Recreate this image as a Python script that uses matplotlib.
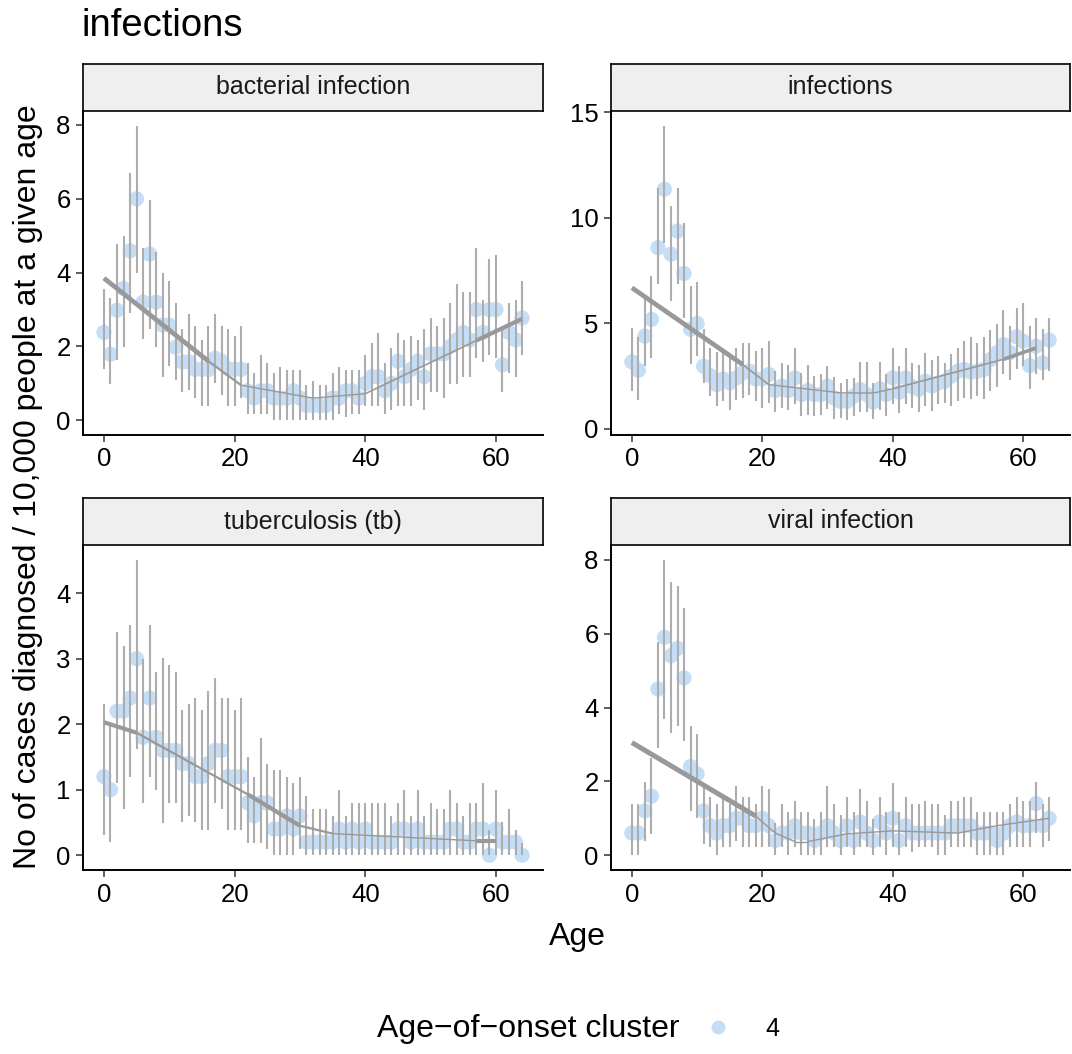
import numpy as np
import matplotlib
matplotlib.use("Agg")
import matplotlib.pyplot as plt
from matplotlib.collections import LineCollection
from matplotlib.lines import Line2D

plt.rcParams['font.family'] = ['Liberation Sans', 'DejaVu Sans']

ages = list(range(65))
panel_titles = ['bacterial infection', 'infections', 'tuberculosis (tb)', 'viral infection']

# rates per 10,000 with lower / upper intervals
bact_val = [2.38, 1.79, 2.98, 3.57, 4.59, 6.0, 3.2, 4.5, 3.2, 2.58,
            2.58, 1.98, 1.58, 1.58, 1.38, 1.38, 1.38, 1.68, 1.6, 1.4,
            1.38, 1.38, 0.8, 0.6, 0.8, 0.8, 0.6, 0.6, 0.6, 0.8,
            0.6, 0.4, 0.4, 0.4, 0.4, 0.6, 0.6, 0.8, 0.8, 0.6,
            1.0, 1.18, 1.18, 0.8, 1.0, 1.6, 1.18, 1.38, 1.6, 1.18,
            1.8, 1.8, 1.8, 2.0, 2.18, 2.38, 2.18, 3.0, 2.38, 3.0,
            3.0, 1.5, 2.38, 2.18, 2.77]
bact_lo = [1.38, 0.97, 1.64, 1.98, 2.91, 4.0, 2.2, 2.47, 1.98, 1.18,
           1.47, 1.09, 0.77, 0.82, 0.59, 0.38, 0.38, 1.0, 0.68, 0.38,
           0.38, 0.59, 0.18, 0.18, 0.18, 0.18, 0.0, 0.0, 0.0, 0.0,
           0.0, 0.0, 0.0, 0.0, 0.0, 0.0, 0.18, 0.09, 0.18, 0.18,
           0.38, 0.38, 0.38, 0.18, 0.27, 0.38, 0.38, 0.38, 0.55, 0.27,
           0.77, 0.77, 0.59, 0.98, 0.98, 1.18, 1.18, 1.68, 1.59, 1.77,
           1.68, 0.77, 1.27, 1.18, 1.77]
bact_hi = [3.56, 3.3, 4.77, 4.98, 6.69, 7.98, 4.68, 5.98, 4.56, 3.98,
           3.77, 3.18, 2.47, 2.88, 2.56, 2.18, 2.56, 2.88, 2.56, 2.47,
           2.27, 2.56, 1.56, 1.27, 1.77, 1.56, 1.27, 1.45, 1.36, 1.36,
           1.36, 0.95, 1.06, 0.95, 0.95, 1.27, 1.45, 1.36, 1.36, 1.36,
           1.77, 2.09, 2.36, 1.56, 1.97, 2.36, 2.18, 2.27, 2.18, 2.47,
           2.77, 2.56, 2.77, 3.18, 3.68, 3.47, 3.47, 4.68, 3.27, 4.38,
           4.47, 2.56, 3.18, 3.27, 3.77]

inf_val = [3.18, 2.78, 4.4, 5.19, 8.59, 11.36, 8.28, 9.38, 7.37, 4.72,
           5.0, 2.97, 2.53, 2.1, 2.37, 2.18, 2.42, 2.66, 2.74, 2.37,
           2.37, 2.58, 1.82, 2.03, 1.82, 2.42, 1.63, 1.82, 1.63, 1.63,
           2.03, 1.47, 1.31, 1.31, 1.55, 1.87, 1.63, 1.27, 1.9, 1.63,
           2.42, 1.74, 2.42, 2.0, 1.87, 2.26, 2.03, 2.18, 2.26, 2.5,
           2.74, 2.82, 2.69, 2.74, 2.82, 3.29, 3.61, 4.0, 3.61, 4.37,
           4.16, 3.0, 3.92, 3.13, 4.21]
inf_lo = [1.79, 1.39, 2.97, 3.37, 6.88, 8.83, 6.06, 6.88, 5.27, 3.1,
          3.45, 2.18, 1.55, 1.1, 1.31, 0.92, 1.39, 1.47, 1.63, 1.31,
          1.0, 1.23, 0.79, 1.0, 0.92, 1.16, 0.63, 0.68, 0.6, 0.68,
          0.95, 0.47, 0.52, 0.41, 0.6, 0.79, 0.79, 0.47, 0.92, 0.63,
          1.16, 0.76, 1.16, 1.0, 0.79, 1.08, 0.84, 1.16, 1.23, 1.08,
          1.31, 1.47, 1.42, 1.55, 1.42, 1.79, 1.99, 2.58, 2.34, 2.82,
          2.97, 1.87, 2.58, 2.34, 2.74]
inf_hi = [4.78, 4.37, 6.14, 7.25, 11.44, 14.37, 10.57, 11.44, 9.75, 6.77,
          6.96, 4.75, 3.84, 3.64, 3.77, 3.45, 3.84, 4.08, 4.08, 3.69,
          3.84, 4.16, 2.74, 3.13, 3.05, 3.84, 2.66, 3.05, 2.5, 2.58,
          2.97, 2.47, 2.18, 2.37, 2.42, 3.16, 3.16, 2.18, 3.16, 2.58,
          3.84, 2.97, 3.84, 3.13, 3.05, 3.58, 3.29, 3.45, 3.13, 3.53,
          3.84, 4.16, 4.37, 4.08, 4.37, 4.67, 4.95, 5.66, 4.9, 5.74,
          5.98, 4.87, 5.27, 4.72, 5.27]

tb_val = [1.2, 1.0, 2.2, 2.2, 2.4, 3.0, 1.8, 2.4, 1.8, 1.6,
          1.6, 1.6, 1.4, 1.4, 1.2, 1.2, 1.4, 1.6, 1.6, 1.2,
          1.2, 1.2, 0.8, 0.6, 0.8, 0.8, 0.4, 0.4, 0.6, 0.4,
          0.6, 0.2, 0.2, 0.2, 0.2, 0.2, 0.4, 0.2, 0.4, 0.2,
          0.4, 0.2, 0.2, 0.2, 0.2, 0.4, 0.4, 0.2, 0.4, 0.2,
          0.2, 0.2, 0.2, 0.4, 0.4, 0.2, 0.2, 0.4, 0.4, 0.0,
          0.4, 0.2, 0.2, 0.2, 0.0]
tb_lo = [0.31, 0.2, 1.1, 0.7, 1.2, 1.62, 0.79, 1.2, 1.0, 0.49,
         0.79, 0.79, 0.5, 0.6, 0.5, 0.39, 0.39, 0.79, 0.7, 0.39,
         0.39, 0.39, 0.19, 0.19, 0.19, 0.1, 0.0, 0.0, 0.0, 0.0,
         0.1, 0.0, 0.0, 0.0, 0.0, 0.0, 0.0, 0.0, 0.0, 0.0,
         0.0, 0.0, 0.0, 0.0, 0.0, 0.0, 0.0, 0.0, 0.0, 0.0,
         0.0, 0.0, 0.0, 0.0, 0.0, 0.0, 0.0, 0.0, 0.0, 0.0,
         0.0, 0.0, 0.0, 0.0, 0.0]
tb_hi = [2.31, 2.0, 3.41, 3.2, 3.51, 4.51, 3.0, 3.51, 2.8, 3.01,
         2.91, 2.8, 2.21, 2.31, 2.4, 2.21, 2.5, 2.71, 2.4, 2.4,
         2.21, 2.4, 1.5, 1.19, 1.79, 1.39, 1.3, 1.3, 1.19, 1.1,
         1.19, 0.9, 0.7, 0.7, 0.7, 0.6, 1.0, 0.6, 0.79, 0.79,
         0.79, 0.79, 0.79, 0.79, 0.6, 0.79, 1.0, 0.6, 1.0, 0.6,
         0.79, 0.7, 0.7, 1.0, 0.79, 0.6, 0.79, 0.79, 1.1, 0.39,
         1.0, 0.5, 0.7, 0.39, 0.19]

vir_val = [0.6, 0.6, 1.2, 1.6, 4.5, 5.9, 5.4, 5.6, 4.8, 2.4,
           2.2, 1.2, 0.8, 0.6, 0.8, 0.8, 1.0, 1.0, 0.8, 0.8,
           1.0, 0.8, 0.4, 0.6, 0.6, 0.8, 0.6, 0.6, 0.4, 0.6,
           0.8, 0.6, 0.4, 0.8, 0.4, 0.9, 0.6, 0.4, 0.9, 0.6,
           1.0, 0.4, 0.8, 0.6, 0.6, 0.6, 0.6, 0.6, 0.6, 0.8,
           0.8, 0.8, 0.8, 0.6, 0.6, 0.6, 0.4, 0.6, 0.8, 0.9,
           0.8, 0.8, 1.4, 0.8, 1.0]
vir_lo = [0.0, 0.0, 0.39, 0.57, 2.9, 3.69, 3.31, 3.49, 3.1, 1.2,
          1.0, 0.3, 0.21, 0.0, 0.21, 0.21, 0.39, 0.21, 0.21, 0.21,
          0.21, 0.21, 0.0, 0.21, 0.0, 0.21, 0.0, 0.0, 0.0, 0.0,
          0.21, 0.21, 0.0, 0.21, 0.0, 0.21, 0.21, 0.0, 0.21, 0.0,
          0.21, 0.0, 0.21, 0.09, 0.21, 0.21, 0.21, 0.0, 0.0, 0.21,
          0.21, 0.21, 0.21, 0.0, 0.0, 0.0, 0.0, 0.0, 0.21, 0.21,
          0.21, 0.21, 0.59, 0.21, 0.39]
vir_hi = [1.39, 1.39, 1.99, 2.63, 5.77, 8.0, 7.39, 7.29, 6.7, 3.49,
          3.29, 1.84, 1.59, 1.39, 1.59, 1.39, 1.88, 1.59, 1.59, 1.39,
          1.88, 1.79, 0.88, 1.39, 1.18, 1.47, 1.18, 1.18, 0.99, 1.18,
          1.88, 1.39, 1.09, 1.59, 1.18, 1.79, 1.47, 0.99, 1.59, 1.18,
          1.96, 1.18, 1.59, 1.39, 1.39, 1.47, 1.39, 1.39, 1.09, 1.47,
          1.47, 1.59, 1.59, 1.18, 1.18, 1.18, 1.18, 1.18, 1.39, 1.59,
          1.47, 1.47, 1.99, 1.39, 1.59]

# segmented fit (knot ages and fitted rates)
bact_fit_x = [0, 16, 21, 32, 40, 57, 64]
bact_fit_y = [3.85, 1.6, 0.95, 0.6, 0.72, 2.16, 2.75]
inf_fit_x = [0, 17, 21, 32, 37, 40, 57, 62]
inf_fit_y = [6.69, 3.05, 2.1, 1.71, 1.7, 1.9, 3.3, 3.84]
tb_fit_x = [0, 5, 22, 30, 35, 57, 60]
tb_fit_y = [2.03, 1.87, 0.93, 0.45, 0.33, 0.22, 0.22]
vir_fit_x = [0, 19, 22, 25, 27, 33, 40, 50, 56, 62, 64]
vir_fit_y = [3.05, 1.06, 0.6, 0.37, 0.37, 0.58, 0.66, 0.6, 0.8, 0.95, 1.0]

# line widths for the fit segments (style only)
fit_widths = [
    [3.4, 1.6, 1.0, 1.0, 1.2, 3.0],
    [3.4, 1.2, 1.0, 1.0, 1.0, 1.2, 2.6],
    [3.0, 1.6, 3.0, 1.6, 1.0, 3.0],
    [3.6, 1.0, 1.0, 1.0, 1.0, 1.0, 1.0, 1.0, 1.0, 1.0],
]

panels = [
    (bact_val, bact_lo, bact_hi, bact_fit_x, bact_fit_y, [0, 2, 4, 6, 8]),
    (inf_val, inf_lo, inf_hi, inf_fit_x, inf_fit_y, [0, 5, 10, 15]),
    (tb_val, tb_lo, tb_hi, tb_fit_x, tb_fit_y, [0, 1, 2, 3, 4]),
    (vir_val, vir_lo, vir_hi, vir_fit_x, vir_fit_y, [0, 2, 4, 6, 8]),
]

W, H = 1072, 1054
fig = plt.figure(figsize=(W / 100, H / 100), dpi=100)

point_col = '#C4DEF7'
bar_col = '#ADADAD'
fit_col = '#999999'

# pixel boxes: left, right, top, bottom
boxes = [(83, 543, 111, 435), (611, 1070, 111, 435),
         (83, 543, 545, 870), (611, 1070, 545, 870)]
strip_h = 47

for i, (val, lo, hi, fx, fy, yt) in enumerate(panels):
    l, r, t, b = boxes[i]
    ax = fig.add_axes([l / W, 1 - b / H, (r - l) / W, (b - t) / H])
    ax.scatter(ages, val, s=120, color=point_col, edgecolors='none', zorder=2)
    ax.vlines(ages, lo, hi, color=bar_col, lw=1.5, zorder=3)
    pts = np.column_stack([fx, fy])
    segs = [pts[k:k + 2] for k in range(len(pts) - 1)]
    ax.add_collection(LineCollection(segs, linewidths=fit_widths[i],
                                     colors=fit_col, zorder=4, capstyle='butt'))
    ax.set_xlim(-3.2, 67.2)
    ymin, ymax = min(lo), max(hi)
    pad = 0.05 * (ymax - ymin)
    ax.set_ylim(ymin - pad, ymax + pad)
    ax.set_xticks([0, 20, 40, 60])
    ax.set_yticks(yt)
    for s in ['top', 'right']:
        ax.spines[s].set_visible(False)
    for s in ['left', 'bottom']:
        ax.spines[s].set_linewidth(1.4)
    ax.tick_params(labelsize=18.5, length=5, width=1.1, color='#333333', pad=4)

    sax = fig.add_axes([l / W, 1 - t / H, (r - l) / W, strip_h / H])
    sax.set_facecolor('#EFEFEF')
    sax.set_xticks([])
    sax.set_yticks([])
    for s in sax.spines.values():
        s.set_linewidth(1.2)
    sax.text(0.5, 0.5, panel_titles[i], ha='center', va='center',
             fontsize=18, color='#1A1A1A', transform=sax.transAxes)

fig.text(82 / W, 1 - 26 / H, 'infections', fontsize=27.5, ha='left', va='center')
fig.text(577 / W, 1 - 937 / H, 'Age', fontsize=23, ha='center', va='center')
fig.text(28 / W, 1 - 487 / H, 'No of cases diagnosed / 10,000 people at a given age',
         fontsize=23, rotation=90, ha='center', va='center')

# legend at the bottom
fig.text(528 / W, 1 - 1029 / H, 'Age\u2212of\u2212onset cluster', fontsize=23,
         ha='center', va='center')
handle = Line2D([], [], marker='o', ls='none', markersize=10,
                markerfacecolor=point_col, markeredgecolor='none')
fig.legend(handles=[handle], labels=['4'], loc='center',
           bbox_to_anchor=(742 / W, 1 - 1029 / H), frameon=False,
           fontsize=18, handlelength=1.0, handletextpad=1.4)

fig.savefig('out.png', dpi=100)
